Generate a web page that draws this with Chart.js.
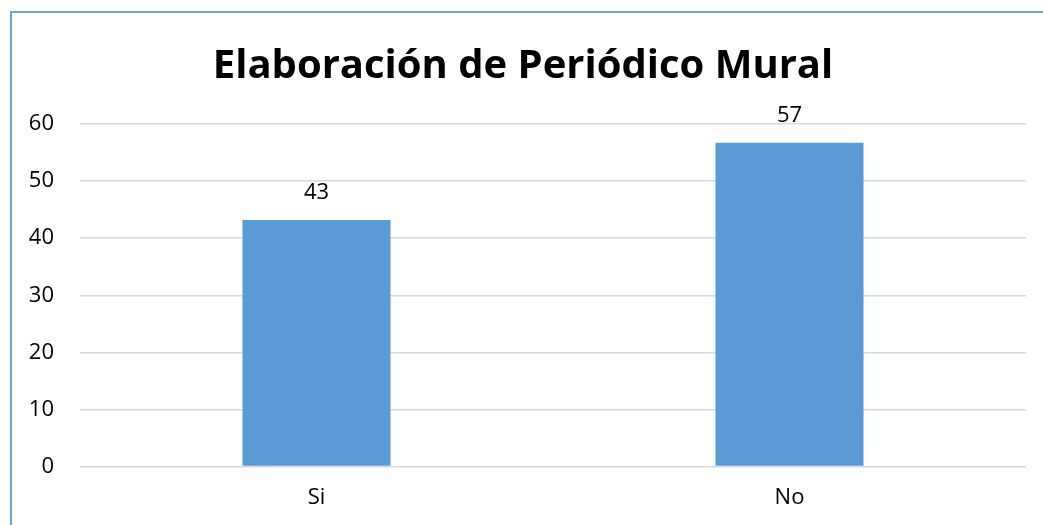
<!DOCTYPE html>
<html>
<head>
<meta charset="utf-8">
<script src="https://cdn.jsdelivr.net/npm/chart.js@4"></script>
<style>
  html, body { margin: 0; padding: 0; background: #fff; }
  #marco { position: absolute; left: 10px; top: 11px; width: 1040px; height: 520px;
           border-left: 2px solid #6fa3d8; border-top: 2px solid #6fa3d8; }
  #caja { position: absolute; left: 0; top: 0; width: 1043px; height: 525px; }
</style>
</head>
<body>
<div id="marco"></div>
<div id="caja"><canvas id="grafica"></canvas></div>
<script>
const categorias = ["Si", "No"];
const valores = [43.2, 56.7];
const etiquetas = ["43", "57"];
const FUENTE = "'Open Sans', 'Liberation Sans', sans-serif";

// etiquetas encima de cada barra
const etiquetasBarras = {
  id: "etiquetasBarras",
  afterDatasetsDraw(chart) {
    const ctx = chart.ctx;
    const meta = chart.getDatasetMeta(0);
    ctx.save();
    ctx.font = "22px " + FUENTE;
    ctx.fillStyle = "#000";
    ctx.textAlign = "center";
    ctx.textBaseline = "middle";
    meta.data.forEach((barra, i) => {
      ctx.fillText(etiquetas[i], barra.x, barra.y - 27);
    });
    ctx.restore();
  }
};

window.onload = () => {
  const ctx = document.getElementById("grafica").getContext("2d");
  new Chart(ctx, {
    type: "bar",
    data: {
      labels: categorias,
      datasets: [{
        data: valores,
        backgroundColor: "#5b9bd5",
        barPercentage: 0.313,
        categoryPercentage: 1
      }]
    },
    options: {
      responsive: true,
      maintainAspectRatio: false,
      animation: false,
      layout: { padding: { left: 20, right: 17, top: 10, bottom: -4 } },
      scales: {
        y: {
          min: 0, max: 60,
          ticks: { stepSize: 10, color: "#000", font: { size: 22, family: FUENTE }, padding: 26 },
          grid: { color: "#d9d9d9", lineWidth: 1.5, drawTicks: false },
          border: { display: false },
          afterFit(scale) { scale.width = 60; }
        },
        x: {
          ticks: { color: "#000", font: { size: 22, family: FUENTE }, padding: 18 },
          grid: { display: false, drawTicks: false },
          border: { display: false }
        }
      },
      plugins: {
        legend: { display: false },
        tooltip: { enabled: false },
        title: {
          display: true,
          text: "Elaboración de Periódico Mural",
          color: "#000",
          font: { size: 40, weight: "bold", family: FUENTE },
          padding: { top: 33, bottom: 33 }
        }
      }
    },
    plugins: [etiquetasBarras]
  });
};
</script>
</body>
</html>
